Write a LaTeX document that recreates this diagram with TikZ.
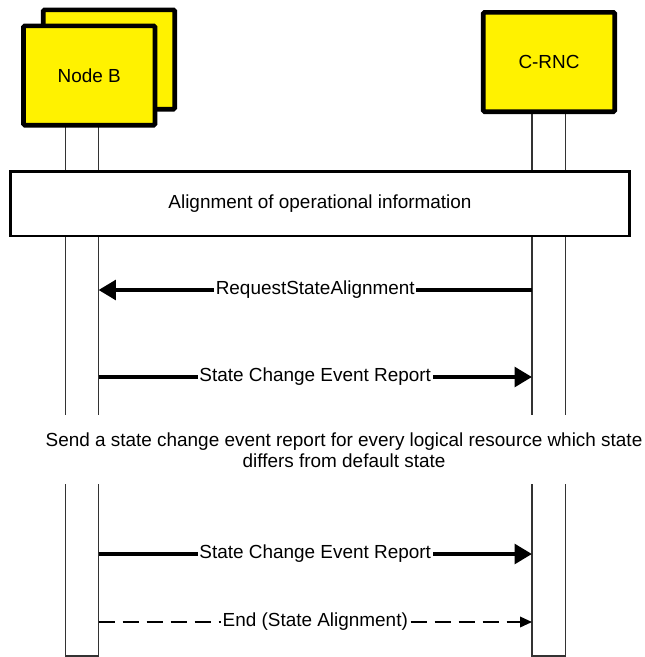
\documentclass[tikz,border=0pt]{standalone}
\usepackage{fontspec}
\setmainfont{Liberation Sans}
\usetikzlibrary{arrows.meta}

\begin{document}
\begin{tikzpicture}[x=0.75pt, y=-0.75pt,
        every node/.style={font=\fontsize{14.2}{15.75}\selectfont},
        entity/.style={draw, line width=3.5pt, fill=yellow, rounded corners=1pt,
            minimum width=98.6pt, minimum height=74.5pt},
        life/.style={line width=0.8pt, draw=black!80},
        msg/.style={line width=3.2pt, -{Triangle[length=13pt, width=14.5pt]}},
        ack/.style={line width=1.1pt, dash pattern=on 12pt off 6pt, -{Triangle[length=9pt, width=8pt]}},
        lbl/.style={fill=white, inner xsep=1.2pt, inner ysep=1pt}]
        \useasboundingbox (0,0) rectangle (645,657);

        % lifelines
        \draw[life] (65.5,125) -- (65.5,415) (98.5,125) -- (98.5,415);
        \draw[life] (65.5,484) -- (65.5,656) -- (98.5,656) -- (98.5,484);
        \draw[life] (532,112) -- (532,415) (565.5,112) -- (565.5,415);
        \draw[life] (532,484) -- (532,656) -- (565.5,656) -- (565.5,484);

        % entities
        \node[entity] (nodeBback) at (109,59.5) {};
        \node[entity] (nodeB) at (89.25,75.5) {Node B};
        \node[entity] (crnc) at (549,62) {C-RNC};

        \node[draw, fill=white, line width=1.9pt, minimum width=464.6pt, minimum height=48.4pt]
            (align) at (320,203.5) {Alignment of operational information};

        % messages
        \coordinate (nb1) at (98.5,290);
        \coordinate (rnc1) at (532,290);
        \draw[msg] (rnc1) -- node[lbl] {RequestStateAlignment} (nb1);

        \coordinate (nb2) at (98.5,377);
        \coordinate (rnc2) at (532,377);
        \draw[msg] (nb2) -- node[lbl] {State Change Event Report} (rnc2);

        \node[align=center] (note) at (344,450.5) {Send a state change event report for every logical resource which state\\differs from default state};

        \coordinate (nb3) at (98.5,554);
        \coordinate (rnc3) at (532,554);
        \draw[msg] (nb3) -- node[lbl] {State Change Event Report} (rnc3);

        \coordinate (nb4) at (98.5,622);
        \coordinate (rnc4) at (532,622);
        \draw[ack] (nb4) -- node[lbl] {End (State Alignment)} (rnc4);

    \end{tikzpicture}
\end{document}
